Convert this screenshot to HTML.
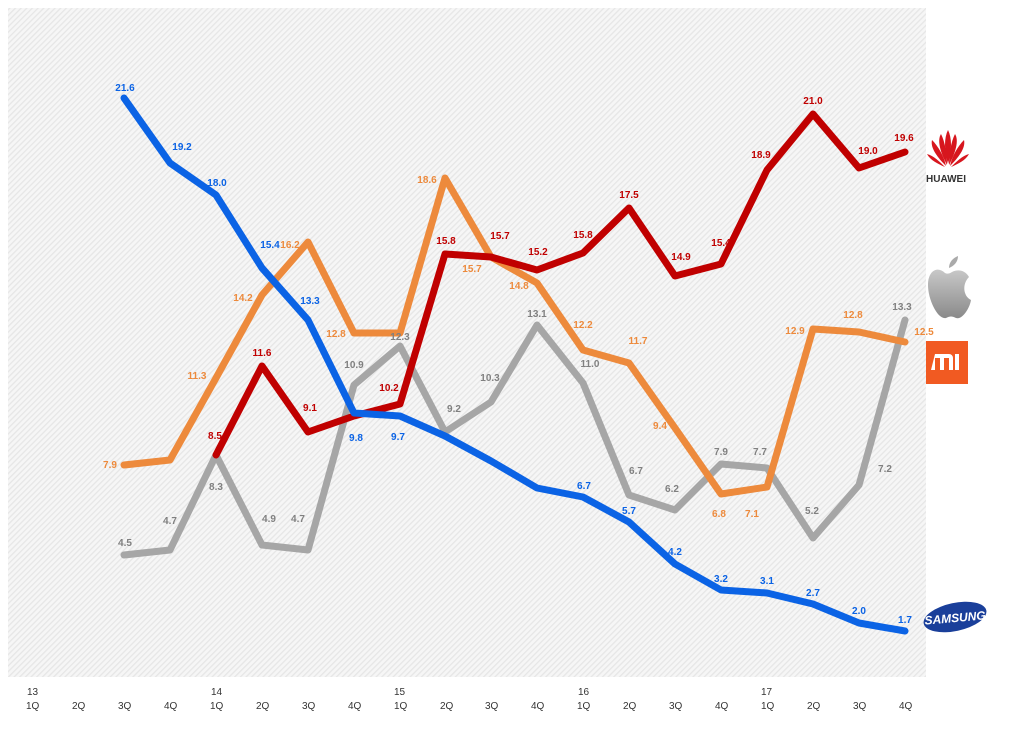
<!DOCTYPE html>
<html><head><meta charset="utf-8"><style>
body{margin:0;background:#fff;width:1024px;height:740px;overflow:hidden}
svg text{font-family:"Liberation Sans",sans-serif;font-weight:bold;font-size:10px}
svg .ax text{font-weight:normal;font-size:10px;fill:#333}
</style></head><body>
<svg width="1024" height="740" viewBox="0 0 1024 740" xmlns="http://www.w3.org/2000/svg">
<defs>
<pattern id="h" width="4" height="4" patternUnits="userSpaceOnUse" patternTransform="rotate(45)">
<rect width="4" height="4" fill="#f6f6f6"/><rect width="1.3" height="4" fill="#e6e6e6"/>
</pattern>
<linearGradient id="ag" x1="0" y1="0" x2="0" y2="1"><stop offset="0" stop-color="#c8c8c8"/><stop offset="1" stop-color="#8a8a8a"/></linearGradient>
</defs>
<rect x="8" y="8" width="918" height="669" fill="url(#h)"/>
<g class="ax">
<text x="27" y="695">13</text><text x="211" y="695">14</text><text x="394" y="695">15</text><text x="578" y="695">16</text><text x="761" y="695">17</text>
<text x="26" y="709">1Q</text><text x="72" y="709">2Q</text><text x="118" y="709">3Q</text><text x="164" y="709">4Q</text>
<text x="210" y="709">1Q</text><text x="256" y="709">2Q</text><text x="302" y="709">3Q</text><text x="348" y="709">4Q</text>
<text x="394" y="709">1Q</text><text x="440" y="709">2Q</text><text x="485" y="709">3Q</text><text x="531" y="709">4Q</text>
<text x="577" y="709">1Q</text><text x="623" y="709">2Q</text><text x="669" y="709">3Q</text><text x="715" y="709">4Q</text>
<text x="761" y="709">1Q</text><text x="807" y="709">2Q</text><text x="853" y="709">3Q</text><text x="899" y="709">4Q</text>
</g>
<g fill="none" stroke-width="7" stroke-linejoin="round" stroke-linecap="round">
<polyline stroke="#a6a6a6" points="124,555 170,550 216,455 262,545 308,550 354,385 400,346 445,432 491,402 537,325 583,383 629,495 675,510 721,464 767,468 813,538 859,485 905,320"/>
<polyline stroke="#ed8a3c" points="124,465 170,460 216,378 262,295 308,242 354,333 400,333 445,178 491,257 537,283 583,350 629,363 675,428 721,494 767,487 813,329 859,332 905,342"/>
<polyline stroke="#c00000" points="216,455 262,366 308,432 354,416 400,404 445,254 491,257 537,270 583,253 629,208 675,276 721,264 767,170 813,114 859,168 905,152"/>
<polyline stroke="#0b63e5" points="124,98 170,163 216,195 262,268 308,320 354,413 400,416 445,436 491,461 537,488 583,497 629,522 675,564 721,590 767,593 813,604 859,623 905,631"/>
</g>
<g fill="#0b63e5" text-anchor="middle">
<text x="125" y="91">21.6</text><text x="182" y="150">19.2</text><text x="217" y="186">18.0</text><text x="270" y="248">15.4</text><text x="310" y="304">13.3</text>
<text x="356" y="441">9.8</text><text x="398" y="440">9.7</text><text x="584" y="489">6.7</text><text x="629" y="514">5.7</text><text x="675" y="555">4.2</text>
<text x="721" y="582">3.2</text><text x="767" y="584">3.1</text><text x="813" y="596">2.7</text><text x="859" y="614">2.0</text><text x="905" y="623">1.7</text>
</g>
<g fill="#ed8a3c" text-anchor="middle">
<text x="110" y="468">7.9</text><text x="197" y="379">11.3</text><text x="243" y="301">14.2</text><text x="290" y="248">16.2</text><text x="336" y="337">12.8</text>
<text x="427" y="183">18.6</text><text x="472" y="272">15.7</text><text x="519" y="289">14.8</text><text x="583" y="328">12.2</text><text x="638" y="344">11.7</text>
<text x="660" y="429">9.4</text><text x="719" y="517">6.8</text><text x="752" y="517">7.1</text><text x="795" y="334">12.9</text><text x="853" y="318">12.8</text><text x="924" y="335">12.5</text>
</g>
<g fill="#c00000" text-anchor="middle" style="font-size:9px">
<text x="215" y="439">8.5</text><text x="262" y="356">11.6</text><text x="310" y="411">9.1</text><text x="389" y="391">10.2</text><text x="446" y="244">15.8</text>
<text x="500" y="239">15.7</text><text x="538" y="255">15.2</text><text x="583" y="238">15.8</text><text x="629" y="198">17.5</text><text x="681" y="260">14.9</text>
<text x="721" y="246">15.4</text><text x="761" y="158">18.9</text><text x="813" y="104">21.0</text><text x="868" y="154">19.0</text><text x="904" y="141">19.6</text>
</g>
<g fill="#808080" text-anchor="middle">
<text x="125" y="546">4.5</text><text x="170" y="524">4.7</text><text x="216" y="490">8.3</text><text x="269" y="522">4.9</text><text x="298" y="522">4.7</text>
<text x="354" y="368">10.9</text><text x="400" y="340">12.3</text><text x="454" y="412">9.2</text><text x="490" y="381">10.3</text><text x="537" y="317">13.1</text>
<text x="590" y="367">11.0</text><text x="636" y="474">6.7</text><text x="672" y="492">6.2</text><text x="721" y="455">7.9</text><text x="760" y="455">7.7</text>
<text x="812" y="514">5.2</text><text x="885" y="472">7.2</text><text x="902" y="310">13.3</text>
</g>
<g fill="#d7161e">
<path d="M946,166 C938,158 930,148 932,140 C938,146 944,156 946,166Z"/>
<path d="M947,165 C940,152 937,140 941,134 C945,142 947,154 947,165Z"/>
<path d="M948,164 C944,150 944,138 948,130 C952,138 952,150 948,164Z"/>
<path d="M949,165 C949,154 951,142 955,134 C959,140 956,152 949,165Z"/>
<path d="M950,166 C952,156 958,146 964,140 C966,148 958,158 950,166Z"/>
<path d="M945,167 C938,164 930,160 927,154 C934,156 940,162 945,167Z"/>
<path d="M951,167 C958,164 966,160 969,154 C962,156 956,162 951,167Z"/>
</g>
<text x="926" y="182" style="font-size:10px;fill:#333">HUAWEI</text>
<path d="M945,273 C938,266 928,270 928,285 C928,300 938,320 946,318 C950,316 952,316 956,318 C963,320 970,307 971,300 C963,296 962,284 969,277 C965,270 958,269 952,272 C949,274 947,274 945,273Z" fill="url(#ag)"/>
<path d="M949,268 C949,262 953,258 958,256 C958,262 954,266 949,268Z" fill="#aaa"/>
<rect x="926" y="341" width="42" height="43" fill="#f15a22"/>
<path d="M935,354 h14 a4,4 0 0 1 4,4 v12 h-4 v-12 h-5 v12 h-4 v-12 h-5 v12 h-4Z M955,354 h4 v16 h-4Z" fill="#fff"/>
<ellipse cx="955" cy="617" rx="32" ry="14" transform="rotate(-12 955 617)" fill="#1a3f9a"/>
<text x="955" y="622" text-anchor="middle" style="font-size:12px;fill:#fff;font-style:italic" transform="rotate(-5 955 617)">SAMSUNG</text>
</svg>
</body></html>
